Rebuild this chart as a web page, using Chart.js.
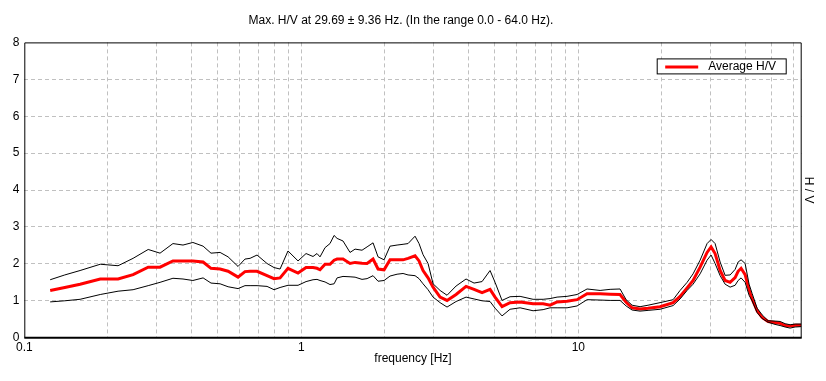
<!DOCTYPE html>
<html><head><meta charset="utf-8">
<script src="https://cdn.jsdelivr.net/npm/chart.js@4/dist/chart.umd.min.js"></script>
<style>html,body{margin:0;padding:0;background:#fff;overflow:hidden}canvas{display:block}</style>
</head><body><canvas id="c" width="826" height="381"></canvas>
<script>
const freq = [0.124,0.140,0.159,0.188,0.218,0.247,0.280,0.309,0.344,0.374,
 0.406,0.442,0.472,0.509,0.544,0.591,0.626,0.653,0.692,0.752,
 0.797,0.838,0.895,0.973,1.040,1.102,1.139,1.168,1.218,1.269,
 1.313,1.346,1.414,1.499,1.563,1.656,1.727,1.815,1.892,1.989,
 2.090,2.216,2.329,2.428,2.573,2.660,2.750,2.867,2.989,3.168,
 3.357,3.619,3.932,4.202,4.491,4.800,5.004,5.303,5.667,6.160,
 6.864,7.461,7.905,8.378,9.104,9.892,10.75,11.98,13.02,14.14,
 14.87,15.63,16.70,17.85,19.72,21.98,23.29,24.69,25.95,27.51,
 29.15,30.14,31.16,32.49,33.86,35.30,36.80,37.73,38.67,39.99,
 41.33,42.38,44.18,46.06,48.40,51.29,53.47,55.75,58.13,60.59,
 63.68];
const avgHV = [1.28,1.36,1.45,1.59,1.59,1.71,1.91,1.91,2.08,2.08,
 2.08,2.05,1.88,1.86,1.80,1.64,1.79,1.80,1.80,1.68,
 1.60,1.62,1.88,1.75,1.90,1.90,1.88,1.84,1.99,1.99,
 2.10,2.13,2.13,2.01,2.04,2.02,2.01,2.13,1.86,1.84,
 2.11,2.11,2.11,2.15,2.22,2.08,1.82,1.62,1.37,1.10,
 1.01,1.17,1.39,1.31,1.22,1.31,1.10,0.84,0.95,0.97,
 0.92,0.92,0.88,0.97,0.99,1.03,1.19,1.19,1.18,1.17,
 0.96,0.81,0.78,0.80,0.84,0.95,1.12,1.35,1.55,1.91,
 2.31,2.46,2.28,1.82,1.55,1.50,1.63,1.80,1.88,1.71,
 1.30,1.05,0.73,0.55,0.44,0.41,0.39,0.33,0.32,0.34,
 0.34];
const upperHV = [1.57,1.70,1.82,1.99,1.95,2.15,2.39,2.29,2.55,2.51,
 2.58,2.48,2.29,2.31,2.19,1.93,2.13,2.15,2.24,2.01,
 1.90,1.86,2.35,2.08,2.28,2.20,2.28,2.19,2.44,2.55,
 2.77,2.69,2.62,2.31,2.40,2.37,2.46,2.57,2.19,2.11,
 2.48,2.51,2.53,2.55,2.75,2.55,2.25,2.01,1.46,1.28,
 1.15,1.40,1.59,1.48,1.52,1.82,1.50,1.01,1.11,1.12,
 1.04,1.04,1.06,1.10,1.12,1.17,1.32,1.28,1.31,1.32,
 1.03,0.88,0.84,0.88,0.95,1.03,1.28,1.50,1.73,2.10,
 2.55,2.66,2.55,2.05,1.69,1.70,1.85,2.05,2.11,2.01,
 1.45,1.20,0.80,0.62,0.46,0.45,0.44,0.38,0.35,0.37,
 0.37];
const lowerHV = [0.97,1.00,1.04,1.17,1.26,1.30,1.41,1.50,1.61,1.59,
 1.55,1.62,1.48,1.46,1.38,1.33,1.41,1.41,1.41,1.39,
 1.30,1.36,1.42,1.42,1.52,1.57,1.58,1.55,1.51,1.44,
 1.46,1.62,1.66,1.65,1.64,1.58,1.60,1.68,1.53,1.55,
 1.67,1.72,1.74,1.70,1.68,1.60,1.46,1.30,1.10,0.95,
 0.83,0.98,1.10,1.05,1.00,0.98,0.80,0.59,0.77,0.81,
 0.73,0.76,0.81,0.81,0.81,0.86,1.03,1.02,1.01,1.01,
 0.86,0.75,0.72,0.74,0.77,0.87,1.05,1.28,1.45,1.73,
 2.10,2.24,2.01,1.68,1.45,1.37,1.42,1.55,1.62,1.50,
 1.15,1.00,0.68,0.52,0.42,0.36,0.33,0.29,0.26,0.29,
 0.30];
const gridFreqs = [0.1,0.2,0.3,0.4,0.5,0.6,0.7,0.8,0.9,1,2,3,4,5,6,7,8,9,10,20,30,40,50,60,64];
const labeledFreqs = [0.1,1,10];
const yTicks = [0,1,2,3,4,5,6,7,8];
const titleText = 'Max. H/V at 29.69 \u00b1 9.36 Hz. (In the range 0.0 - 64.0 Hz).';
const xTitle = 'frequency [Hz]';
const yTitle = 'H / V';
const legendLabel = 'Average H/V';

const FONT = 'Liberation Sans, Arial, sans-serif';
const pts = arr => freq.map((f, i) => ({x: f, y: arr[i]}));

const framePlugin = {
  id: 'framePlugin',
  afterDraw(chart) {
    const {ctx, chartArea: a} = chart;
    ctx.save();
    ctx.strokeStyle = '#000';
    ctx.lineWidth = 1;
    ctx.beginPath();
    ctx.moveTo(a.left + 0.5, a.bottom);
    ctx.lineTo(a.left + 0.5, a.top + 0.5);
    ctx.lineTo(a.right - 0.5, a.top + 0.5);
    ctx.lineTo(a.right - 0.5, a.bottom);
    ctx.stroke();
    ctx.lineWidth = 2;
    ctx.beginPath();
    ctx.moveTo(a.left, a.bottom);
    ctx.lineTo(a.right, a.bottom);
    ctx.stroke();
    // legend box
    const lx = a.right - 144.5, ly = a.top + 16.5, lw = 129, lh = 15;
    ctx.fillStyle = '#fff';
    ctx.fillRect(lx, ly, lw, lh);
    ctx.lineWidth = 1;
    ctx.strokeRect(lx, ly, lw, lh);
    ctx.strokeStyle = '#ff0000';
    ctx.lineWidth = 3;
    ctx.beginPath();
    ctx.moveTo(lx + 8, ly + 8);
    ctx.lineTo(lx + 41, ly + 8);
    ctx.stroke();
    ctx.fillStyle = '#000';
    ctx.font = '12px ' + FONT;
    ctx.textBaseline = 'middle';
    ctx.textAlign = 'left';
    ctx.fillText(chart.data.datasets[2].label, lx + 51, ly + 8);
    // right axis title
    ctx.translate(a.right + 7, (a.top + a.bottom) / 2);
    ctx.rotate(Math.PI / 2);
    ctx.textAlign = 'center';
    ctx.fillText(yTitle, 0, 0);
    ctx.restore();
  }
};

new Chart(document.getElementById('c'), {
  type: 'line',
  data: {
    datasets: [
      {label: 'upper', data: pts(upperHV), borderColor: '#000', borderWidth: 1, pointRadius: 0, tension: 0, fill: false},
      {label: 'lower', data: pts(lowerHV), borderColor: '#000', borderWidth: 1, pointRadius: 0, tension: 0, fill: false},
      {label: legendLabel, data: pts(avgHV), borderColor: '#ff0000', borderWidth: 3, pointRadius: 0, tension: 0, fill: false}
    ]
  },
  options: {
    responsive: false,
    animation: false,
    devicePixelRatio: 1,
    layout: {padding: {left: 0, right: 24.3, top: 0, bottom: 0}},
    plugins: {
      legend: {display: false},
      tooltip: {enabled: false},
      title: {display: true, text: titleText, color: '#000', font: {family: FONT, size: 12, weight: 'normal'}, padding: {top: 13, bottom: 15}}
    },
    scales: {
      x: {
        type: 'logarithmic', min: 0.1, max: 64,
        afterBuildTicks: s => { s.ticks = gridFreqs.map(v => ({value: v})); },
        afterFit: s => { s.height = 43.3; },
        ticks: {autoSkip: false, maxRotation: 0, padding: 3, color: '#000', font: {family: FONT, size: 12},
          callback: v => { const m = labeledFreqs.find(l => Math.abs(l - v) < 1e-9); return m !== undefined ? String(m) : ''; }},
        grid: {drawTicks: false, color: c => (c.tick && (c.tick.value === 0.1 || c.tick.value === 64)) ? 'rgba(0,0,0,0)' : '#c0c0c0', lineWidth: 1},
        border: {display: false, dash: [4, 3]},
        title: {display: true, text: xTitle, color: '#000', font: {family: FONT, size: 12}, padding: {top: 0, bottom: 15}}
      },
      y: {
        min: 0, max: 8,
        afterBuildTicks: s => { s.ticks = yTicks.map(v => ({value: v})); },
        afterFit: s => { s.width = 24.3; },
        ticks: {padding: 5, color: '#000', font: {family: FONT, size: 12}},
        grid: {drawTicks: false, color: c => (c.tick && (c.tick.value === 0 || c.tick.value === 8)) ? 'rgba(0,0,0,0)' : '#c0c0c0', lineWidth: 1},
        border: {display: false, dash: [4, 3]}
      }
    }
  },
  plugins: [framePlugin]
});
</script>
</body></html>
